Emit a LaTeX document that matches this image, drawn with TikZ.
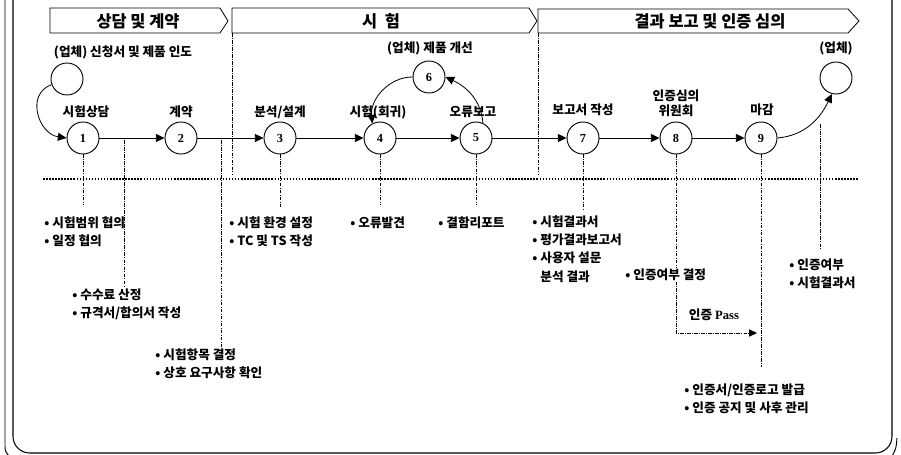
\documentclass[tikz,border=0pt]{standalone}
\usepackage{fontspec}
\setmainfont{Liberation Serif}
\newfontfamily\kr{Noto Sans CJK KR}
\usetikzlibrary{arrows.meta}

\begin{document}
\begin{tikzpicture}[x=0.03cm,y=-0.03cm,
  stage/.style={circle,draw,line width=0.8pt,minimum size=0.96cm,inner sep=0pt,
    font=\bfseries\fontsize{10.5}{12}\selectfont},
  flow/.style={-{Triangle[length=2.6mm,width=2.4mm]},line width=0.7pt},
  guide/.style={line width=0.4pt,dash pattern=on 3pt off 1.2pt on 0.6pt off 1.2pt},
  lbl/.style={font=\kr\bfseries\fontsize{10.8}{12}\selectfont},
  note/.style={anchor=west,align=left,inner sep=1pt,
    font=\kr\bfseries\fontsize{10.8}{15.5}\selectfont},
  phase/.style={font=\kr\bfseries\fontsize{14}{16}\selectfont}]
  \useasboundingbox (0,0) rectangle (901,455);

  % frame
  \draw[line width=0.9pt,rounded corners=0.5cm] (13,-2) -- (13,453) -- (892,453) -- (892,-2);
  \draw[line width=0.8pt] (5,-2) -- (5,444) .. controls (5,451) .. (9,456);
  \draw[line width=0.8pt] (897,438) .. controls (896,449) .. (892,456);

  % phases
  \draw[line width=0.7pt] (50,8) -- (220,8) -- (228,21) -- (220,33) -- (50,33) -- cycle;
  \draw[line width=0.7pt] (232,8) -- (529,8) -- (537,21) -- (529,33) -- (232,33) -- cycle;
  \draw[line width=0.7pt] (538,9) -- (848,9) -- (859,21) -- (848,33) -- (538,33) -- cycle;
  \node[phase] (ph1) at (138,21) {상담 및 계약};
  \node[phase] (ph2) at (381,21) {시\ \ 험};
  \node[phase] (ph3) at (710,21) {결과 보고 및 인증 심의};
  \coordinate (sep1) at (232,33);
  \coordinate (sep2) at (538,33);
  \draw[guide] (sep1) -- ++(0,142);
  \draw[guide] (sep2) -- ++(0,142);

  % stages
  \node[stage] (start) at (67,79) {};
  \node[lbl] (startl) at (123,52) {(업체) 신청서 및 제품 인도};
  \node[stage] (n1) at (83,138) {1};
  \node[stage] (n2) at (181,138) {2};
  \node[stage] (n3) at (280,138) {3};
  \node[stage] (n4) at (380,138) {4};
  \node[stage] (n5) at (476,138) {5};
  \node[stage] (n6) at (429,77) {6};
  \node[stage] (n7) at (583,138) {7};
  \node[stage] (n8) at (676,138) {8};
  \node[stage] (n9) at (761,138) {9};
  \node[stage] (fin) at (836,78) {};

  \node[lbl] (l1) at (86,112) {시험상담};
  \node[lbl] (l2) at (181,112) {계약};
  \node[lbl] (l3) at (280,112) {분석/설계};
  \node[lbl] (l4) at (378,112) {시험(회귀)};
  \node[lbl] (l5) at (473,112) {오류보고};
  \node[lbl] (l6) at (430,48) {(업체) 제품 개선};
  \node[lbl] (l7) at (583,110) {보고서 작성};
  \node[lbl,align=center,font=\kr\bfseries\fontsize{10.8}{13}\selectfont] (l8) at (676,103) {인증심의\\위원회};
  \node[lbl] (l9) at (762,110) {마감};
  \node[lbl] (lfin) at (836,48) {(업체)};

  \draw[flow] (start.200) to[out=200,in=172,looseness=1.3] (n1.west);
  \foreach \a/\b in {n1/n2,n2/n3,n3/n4,n4/n5,n5/n7,n7/n8,n8/n9}
    \draw[flow] (\a) -- (\b);
  \draw[flow] (n5.65) to[out=95,in=-25] (n6.east);
  \draw[flow] (n6.west) to[out=180,in=95] (n4.118);
  \draw[flow] (n9.east) to[out=5,in=-115] (fin.255);

  % divider
  \draw[line width=1.4pt,dash pattern=on 1.3pt off 1.3pt] (43,179) -- (858,179);

  % notes
  \node[note] (scope) at (43,232) {• 시험범위 협의\\• 일정 협의};
  \node[note] (fee) at (71,304) {• 수수료 산정\\• 규격서/합의서 작성};
  \node[note] (items) at (154,364) {• 시험항목 결정\\• 상호 요구사항 확인};
  \node[note] (env) at (228,232) {• 시험 환경 설정\\• TC 및 TS 작성};
  \node[note] (err) at (349,223) {• 오류발견};
  \node[note] (defect) at (437,223) {• 결함리포트};
  \node[note] (report) at (531,249) {• 시험결과서\\• 평가결과보고서\\• 사용자 설문\\\phantom{• }분석 결과};
  \node[note] (cert) at (683,399) {• 인증서/인증로고 발급\\• 인증 공지 및 사후 관리};
  \node[note] (result) at (788,274) {• 인증여부\\• 시험결과서};
  \node[lbl] (pass) at (714,315) {인증 \textrm{\bfseries Pass}};

  \coordinate (t12) at (124,140);
  \coordinate (t23) at (221,140);
  \coordinate (tfin) at (820,124);
  \coordinate (passend) at (757,333);
  \draw[guide] (n1.south) -- ++(0,51);
  \draw[guide] (t12) -- (t12 |- fee.north);
  \draw[guide] (t23) -- (t23 |- items.north);
  \draw[guide] (n3.south) -- ++(0,53);
  \draw[guide] (n4.south) -- ++(0,51);
  \draw[guide] (n5.south) -- ++(0,51);
  \draw[guide] (n7.south) -- ++(0,56);
  \draw[guide] (n9.south) -- ++(0,213);
  \draw[guide] (tfin) -- ++(0,126);
  \draw[guide,-{Triangle[length=2.4mm,width=2.2mm]}] (n8.south) |- (passend);
  \node[note,fill=white] (decide) at (624,275) {• 인증여부 결정};
\end{tikzpicture}
\end{document}
